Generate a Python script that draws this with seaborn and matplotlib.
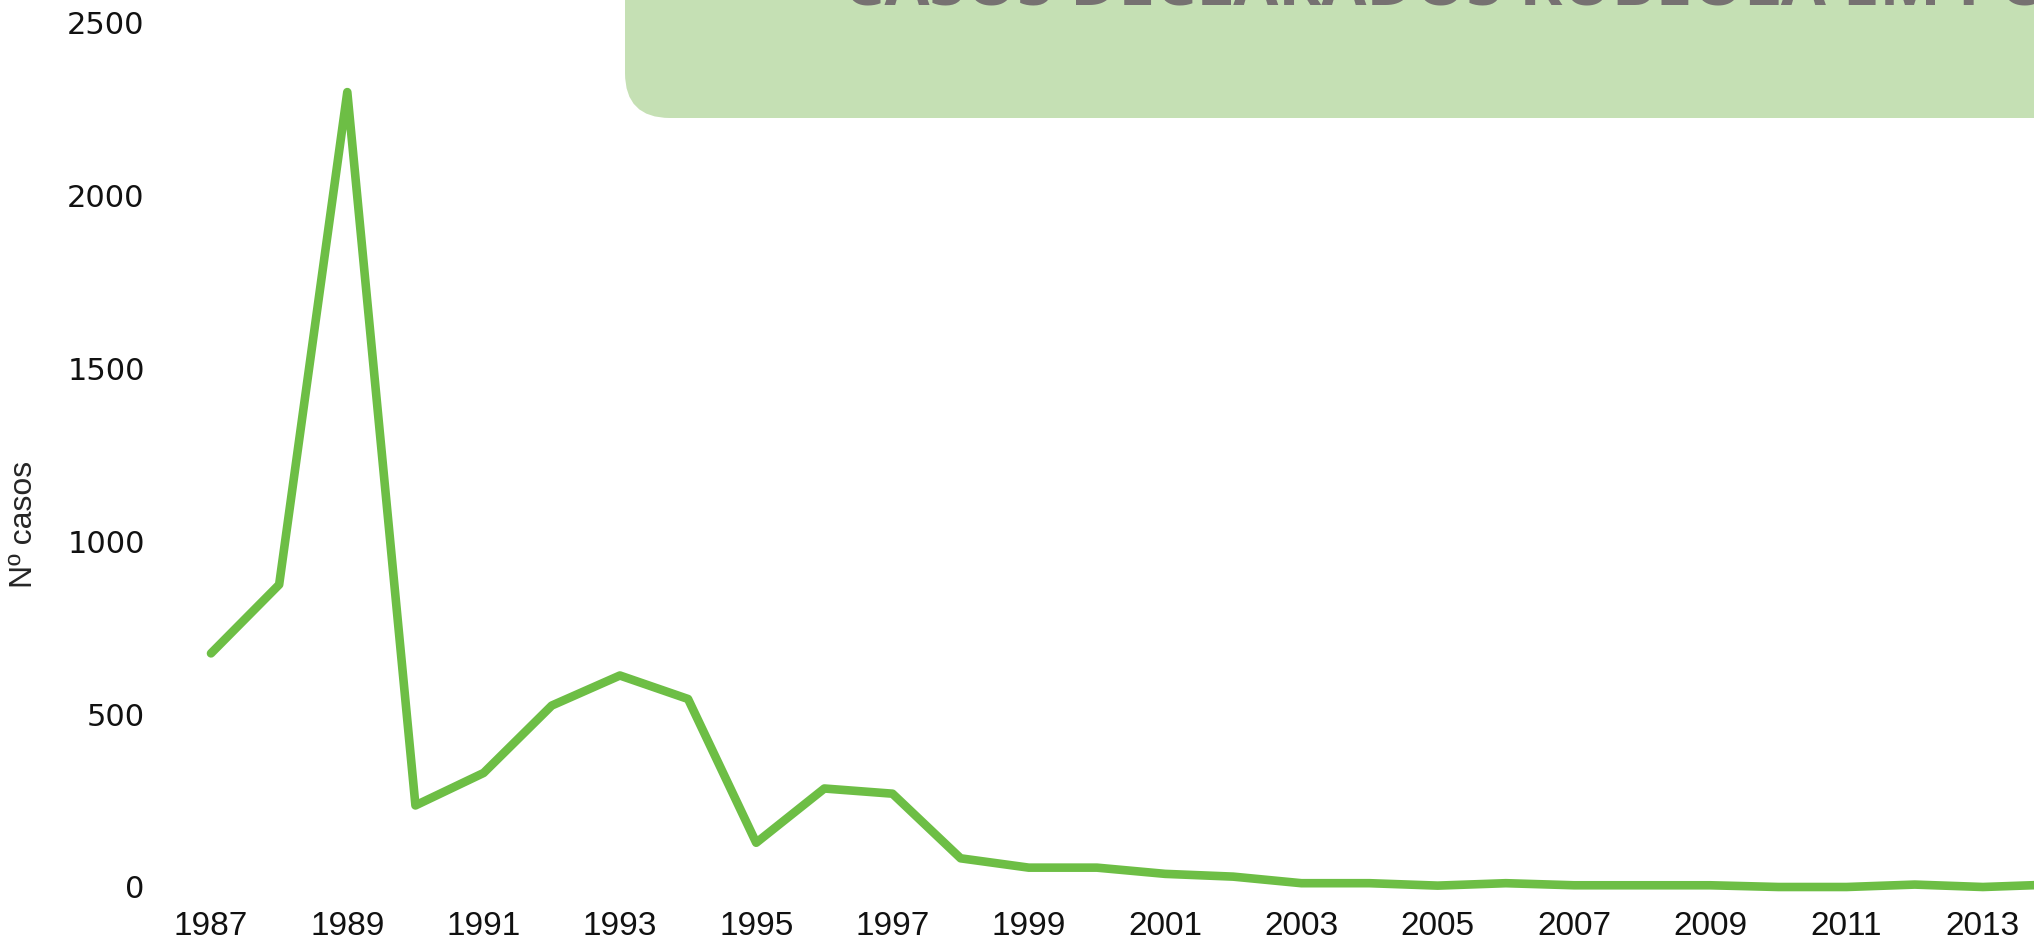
import pandas as pd
import matplotlib.pyplot as plt
import seaborn as sns
from matplotlib.patches import FancyBboxPatch

# Casos declarados por ano
years = list(range(1987, 2015))
cases = [676, 875, 2300, 236, 330, 525, 612, 544, 128, 285,
         270, 83, 56, 56, 38, 30, 11, 11, 4, 11,
         5, 5, 5, 0, 0, 7, 0, 7]
tick_years = list(range(1987, 2015, 2))
title = "CASOS DECLARADOS RUBÉOLA EM PORTUGAL"

df = pd.DataFrame({"Ano": years, "Casos": cases})

sns.set_style("white")
plt.rcParams['font.family'] = ['Liberation Sans', 'DejaVu Sans']

W, H = 2034, 942
fig = plt.figure(figsize=(W / 100, H / 100), dpi=100)

# title box (cut off at the top/right like the original)
box = FancyBboxPatch((6.25, 8.24), 15.0, 3.0,
                     boxstyle="round,pad=0,rounding_size=0.45",
                     transform=fig.dpi_scale_trans, facecolor="#C5E0B4",
                     edgecolor="none", zorder=0)
fig.patches.append(box)
fig.text(843 / W, (H - 6) / H, title, fontsize=47, fontweight='bold',
         color="#767171", family="Open Sans", va='baseline', ha='left')

left = 160
ax = fig.add_axes([left / W, (H - 887) / H, 1 - left / W, (887 - 23) / H])
ax.patch.set_alpha(0)
sns.lineplot(data=df, x="Ano", y="Casos", ax=ax, color="#6DBE45",
             linewidth=6.2, clip_on=False)

px_per_year = 68.15
ax.set_xlim(1987 - (211 - left) / px_per_year, 1987 + (W - 211) / px_per_year)
ax.set_ylim(0, 2500)
ax.set_xticks(tick_years)
ax.set_xticklabels([str(y) for y in tick_years], fontsize=24)
ax.set_yticks([0, 500, 1000, 1500, 2000, 2500])
ax.set_yticklabels(["0", "500", "1000", "1500", "2000", "2500"],
                   fontsize=22, family="DejaVu Sans")
ax.tick_params(axis='x', length=0, pad=17, colors="#111111")
ax.tick_params(axis='y', length=0, pad=11, colors="#111111")
ax.set_xlabel("")
ax.set_ylabel("Nº casos", fontsize=23)
ax.yaxis.set_label_coords(-(left - 39) / (W - left), 0.42)
sns.despine(ax=ax, left=True, bottom=True)

fig.savefig("out.png", dpi=100)
